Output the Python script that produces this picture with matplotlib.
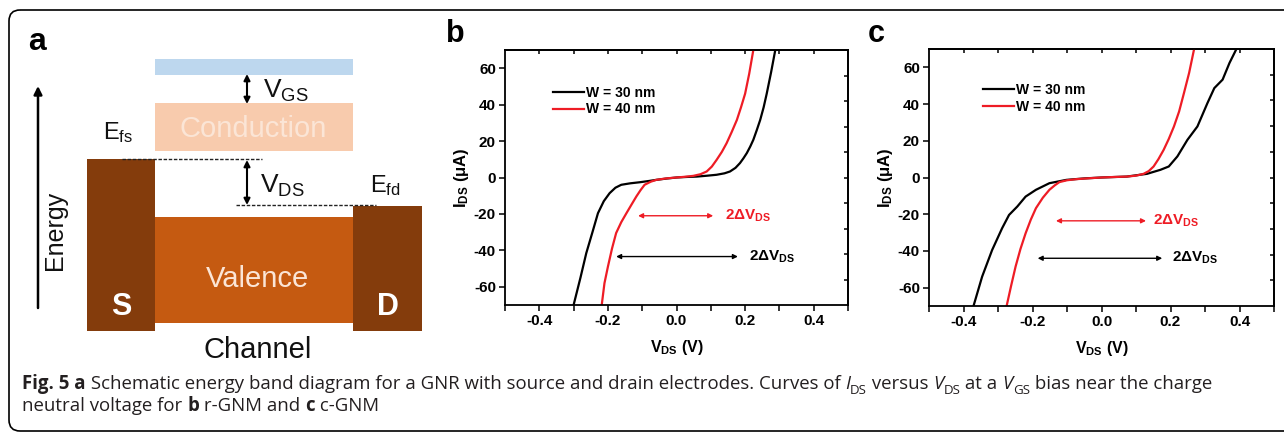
import numpy as np
import matplotlib
matplotlib.use("Agg")
import matplotlib.pyplot as plt
from matplotlib.patches import Rectangle, FancyBboxPatch
from matplotlib.transforms import IdentityTransform
from matplotlib import font_manager as fm
from matplotlib.font_manager import FontProperties

# ---------------- data ----------------
b_black_v = [-0.300, -0.280, -0.263, -0.245, -0.229, -0.212, -0.195, -0.178, -0.161, -0.135,
             -0.107, -0.080, -0.059, -0.030, 0.0, 0.030, 0.059, 0.090, 0.117, 0.140, 0.156,
             0.172, 0.185, 0.195, 0.205, 0.215, 0.224, 0.234, 0.244, 0.254, 0.263, 0.276, 0.288]
b_black_i = [-70, -55, -41.5, -30, -19.6, -13, -8.6, -5.6, -4.0, -3.2, -2.6, -1.9, -1.3, -0.6,
             0, 0.3, 0.5, 1.0, 1.5, 2.3, 3.3, 5.3, 7.9, 10.5, 13.4, 17, 20.7, 26, 31.6, 38.5,
             46, 58, 70]
b_red_v = [-0.218, -0.210, -0.200, -0.188, -0.176, -0.161, -0.146, -0.130, -0.117, -0.105,
           -0.093, -0.075, -0.059, -0.030, 0.0, 0.025, 0.049, 0.070, 0.088, 0.103, 0.117,
           0.132, 0.146, 0.161, 0.176, 0.188, 0.200, 0.212, 0.224]
b_red_i = [-70, -58, -49, -39, -30.5, -24.5, -19.6, -14.5, -10.4, -7, -4.0, -2.3, -1.3, -0.5,
           0, 0.4, 0.9, 1.8, 3.3, 6, 9.7, 14, 18.8, 25, 31.6, 38.5, 46, 57, 70]

c_black_v = [-0.371, -0.346, -0.317, -0.288, -0.268, -0.244, -0.220, -0.190, -0.151, -0.102,
             -0.05, 0.0, 0.073, 0.132, 0.171, 0.195, 0.220, 0.249, 0.278, 0.307, 0.327,
             0.351, 0.371, 0.390]
c_black_i = [-70, -54, -39.5, -27.6, -20.4, -15.8, -10.4, -6.7, -3.1, -1.3, -0.5, 0, 0.5,
             2.0, 4.2, 6.0, 11.5, 20.5, 27.8, 40.5, 48.7, 53.3, 62.4, 69.6]
c_red_v = [-0.275, -0.262, -0.249, -0.235, -0.220, -0.205, -0.190, -0.170, -0.151, -0.135,
           -0.122, -0.100, -0.073, -0.035, 0.0, 0.040, 0.073, 0.100, 0.122, 0.137, 0.151,
           0.165, 0.180, 0.195, 0.210, 0.225, 0.239, 0.254, 0.268]
c_red_i = [-70, -59, -48.5, -39, -30.4, -23, -16.7, -11, -6.7, -4.2, -2.5, -1.5, -0.9, -0.4,
           0, 0.3, 0.5, 1.0, 2.0, 3.5, 6.0, 10, 15, 21, 27.8, 36, 46, 57, 69.6]

series_labels = ["W = 30 nm", "W = 40 nm"]
x_ticks = [-0.4, -0.2, 0.0, 0.2, 0.4]
x_tick_labels = ["-0.4", "-0.2", "0.0", "0.2", "0.4"]
y_ticks = [-60, -40, -20, 0, 20, 40, 60]
y_tick_labels = ["-60", "-40", "-20", "0", "20", "40", "60"]

# annotation arrows: (x_start, x_end, y, text_x)
b_red_arrow = (-0.112, 0.107, -21, 0.14)
b_black_arrow = (-0.176, 0.179, -43.4, 0.21)
c_red_arrow = (-0.132, 0.129, -23.6, 0.149)
c_black_arrow = (-0.185, 0.176, -44, 0.205)

# ---------------- style ----------------
W, H = 1284, 432
RED = "#ee1c25"
plt.rcParams["font.family"] = ["Liberation Sans", "DejaVu Sans"]
plt.rcParams["axes.unicode_minus"] = False
plt.rcParams["mathtext.fontset"] = "custom"
plt.rcParams["mathtext.rm"] = "Liberation Sans"
plt.rcParams["mathtext.bf"] = "Liberation Sans:bold"
plt.rcParams["mathtext.it"] = "Liberation Sans:italic"

fig = plt.figure(figsize=(W / 100, H / 100), dpi=100)
fig.patch.set_facecolor("white")

# overlay axes in pixel coordinates (for schematic + frame)
ov = fig.add_axes([0, 0, 1, 1], zorder=0)
ov.set_xlim(0, W)
ov.set_ylim(H, 0)
ov.axis("off")

# frame
ov.add_patch(FancyBboxPatch((9, 10), 1320, 421,
                            boxstyle="round,pad=0,rounding_size=11",
                            fc="none", ec="black", lw=1.2))

# ---------------- panel a (schematic) ----------------
BLUE = "#bdd7ee"
PEACH = "#f8cbad"
ORANGE = "#c55a11"
BROWN = "#843c0c"
ov.add_patch(Rectangle((155, 59), 198, 16, fc=BLUE, ec="none"))
ov.add_patch(Rectangle((155, 103), 198, 48, fc=PEACH, ec="none"))
ov.add_patch(Rectangle((155, 217), 198, 106, fc=ORANGE, ec="none"))
ov.add_patch(Rectangle((87, 159), 68, 172, fc=BROWN, ec="none"))
ov.add_patch(Rectangle((353, 206), 69, 125, fc=BROWN, ec="none"))
ov.plot([122, 262], [159, 159], ls=(0, (2.5, 1.2)), color="#222222", lw=1.0)
ov.plot([236, 376], [205, 205], ls=(0, (2.5, 1.2)), color="#222222", lw=1.0)
ov.annotate("", xy=(247, 74), xytext=(247, 104),
            arrowprops=dict(arrowstyle="<|-|>", color="black", lw=1.5, mutation_scale=9,
                            shrinkA=0, shrinkB=0))
ov.annotate("", xy=(247, 160), xytext=(247, 205),
            arrowprops=dict(arrowstyle="<|-|>", color="black", lw=1.5, mutation_scale=9,
                            shrinkA=0, shrinkB=0))
ov.annotate("", xy=(38, 86), xytext=(38, 308),
            arrowprops=dict(arrowstyle="-|>", color="black", lw=1.8, mutation_scale=12,
                            shrinkA=0, shrinkB=0))
ov.text(28, 50, "a", fontsize=23, fontweight="bold", ha="left", va="baseline")
ov.text(263, 98, r"V$_\mathrm{GS}$", fontsize=19, ha="left", va="baseline", color="#111111")
ov.text(103, 139, r"E$_\mathrm{fs}$", fontsize=17, ha="left", va="baseline", color="#111111")
ov.text(260, 193, r"V$_\mathrm{DS}$", fontsize=19, ha="left", va="baseline", color="#111111")
ov.text(370, 192, r"E$_\mathrm{fd}$", fontsize=17, ha="left", va="baseline", color="#111111")
ov.text(253, 137, "Conduction", fontsize=21, ha="center", va="baseline", color="#fbe5d6")
ov.text(257, 287, "Valence", fontsize=21, ha="center", va="baseline", color="#fbe5d6")
ov.text(121, 315, "S", fontsize=22, fontweight="bold", ha="center", va="baseline", color="white")
ov.text(388, 315, "D", fontsize=22, fontweight="bold", ha="center", va="baseline", color="white")
ov.text(258, 358, "Channel", fontsize=21, ha="center", va="baseline", color="#111111")
ov.text(55, 230, "Energy", fontsize=18, rotation=90, ha="center", va="center", color="#111111")
ov.text(446, 42, "b", fontsize=22, fontweight="bold", ha="left", va="baseline")
ov.text(868, 42, "c", fontsize=22, fontweight="bold", ha="left", va="baseline")


# ---------------- panels b, c ----------------
def iv_panel(rect, black_v, black_i, red_v, red_i, red_arrow, black_arrow, leg_anchor):
    ax = fig.add_axes(rect, zorder=2)
    ax.set_facecolor("none")
    l1, = ax.plot(black_v, black_i, color="black", lw=1.6, label=series_labels[0])
    l2, = ax.plot(red_v, red_i, color=RED, lw=1.6, label=series_labels[1])
    ax.set_xlim(-0.5, 0.5)
    ax.set_ylim(-70, 70)
    ax.set_xticks(x_ticks)
    ax.set_xticklabels(x_tick_labels)
    ax.set_xticks(np.arange(-0.5, 0.51, 0.1), minor=True)
    ax.set_yticks(y_ticks)
    ax.set_yticklabels(y_tick_labels)
    for s in ax.spines.values():
        s.set_linewidth(1.3)
    ax.tick_params(axis="both", which="both", direction="out", length=4, width=1.1,
                   labelsize=11, pad=2.5)
    for lab in ax.get_xticklabels() + ax.get_yticklabels():
        lab.set_fontweight("bold")
    top = ax.secondary_xaxis("top")
    top.set_xticks(np.arange(-0.4, 0.41, 0.1))
    top.tick_params(direction="in", length=3, width=1.1, labeltop=False)
    top.spines["top"].set_linewidth(1.3)
    right = ax.secondary_yaxis("right")
    right.set_yticks(np.arange(-56, 57, 14))
    right.tick_params(direction="in", length=3, width=1.1, labelright=False)
    right.spines["right"].set_linewidth(1.3)
    ax.set_xlabel(r"V$_\mathbf{DS}$ (V)", fontsize=11.5, fontweight="bold", labelpad=7)
    ax.set_ylabel(r"I$_\mathbf{DS}$ ($\mathbf{\mu}$A)", fontsize=12, fontweight="bold", labelpad=2)
    for (x0, x1, y, tx), col in ((red_arrow, RED), (black_arrow, "black")):
        ax.annotate("", xy=(x1, y), xytext=(x0, y),
                    arrowprops=dict(arrowstyle="<|-|>", color=col, lw=1.0,
                                    mutation_scale=7, shrinkA=0, shrinkB=0))
        ax.text(tx, y, r"2$\mathbf{\Delta}$V$_\mathbf{DS}$", color=col, fontsize=11,
                fontweight="bold", ha="left", va="center")
    leg = ax.legend(handles=[l1, l2], loc="upper left", bbox_to_anchor=leg_anchor,
                    frameon=False, fontsize=10, handlelength=2.2, handletextpad=0.15,
                    labelspacing=0.2, borderpad=0, borderaxespad=0)
    for t in leg.get_texts():
        t.set_fontweight("bold")
    return ax


iv_panel([505 / W, 1 - 305 / H, 343 / W, 255 / H], b_black_v, b_black_i, b_red_v, b_red_i,
         b_red_arrow, b_black_arrow, (0.14, 0.86))
iv_panel([929 / W, 1 - 306 / H, 345 / W, 257 / H], c_black_v, c_black_i, c_red_v, c_red_i,
         c_red_arrow, c_black_arrow, (0.157, 0.868))

# ---------------- caption ----------------
def pick_family(cands):
    for c in cands:
        try:
            fm.findfont(FontProperties(family=c), fallback_to_default=False)
            return c
        except Exception:
            continue
    return "DejaVu Sans"


CAP_FAM = pick_family(["Liberation Sans Narrow", "Open Sans", "Noto Sans"])
caption_line1 = [("Fig. 5 a", "b"), (" Schematic energy band diagram for a GNR with source and drain electrodes. Curves of ", "n"),
                 ("I", "i"), ("DS", "s"), (" versus ", "n"), ("V", "i"), ("DS", "s"), (" at a ", "n"),
                 ("V", "i"), ("GS", "s"), (" bias near the charge", "n")]
caption_line2 = [("neutral voltage for ", "n"), ("b", "b"), (" r-GNM and ", "n"), ("c", "b"), (" c-GNM", "n")]

renderer = fig.canvas.get_renderer()


def run_props(kind, size):
    if kind == "b":
        return FontProperties(family=CAP_FAM, weight="bold", size=size), 0
    if kind == "i":
        return FontProperties(family=CAP_FAM, style="italic", size=size), 0
    if kind == "s":
        return FontProperties(family=CAP_FAM, size=size * 0.72), -size * 0.25
    return FontProperties(family=CAP_FAM, size=size), 0


def run_width(txt, fp):
    w1 = renderer.get_text_width_height_descent("|" + txt + "|", fp, ismath=False)[0]
    w0 = renderer.get_text_width_height_descent("||", fp, ismath=False)[0]
    return w1 - w0


def line_width(runs, size):
    return sum(run_width(t, run_props(k, size)[0]) for t, k in runs)


base_size = 11.0
target = 1207 - 22
size = base_size * target / line_width(caption_line1, base_size)
size = size * target / line_width(caption_line1, size)


def draw_runs(runs, x0, baseline, size):
    x = x0
    for t, k in runs:
        fp, dy = run_props(k, size)
        fig.text(x, H - baseline + dy * 100 / 72, t, fontproperties=fp, color="#231f20",
                 transform=IdentityTransform(), ha="left", va="baseline")
        x += run_width(t, fp)


draw_runs(caption_line1, 22, 389, size)
draw_runs(caption_line2, 22, 411, size)

fig.savefig("out.png", dpi=100, facecolor="white")
